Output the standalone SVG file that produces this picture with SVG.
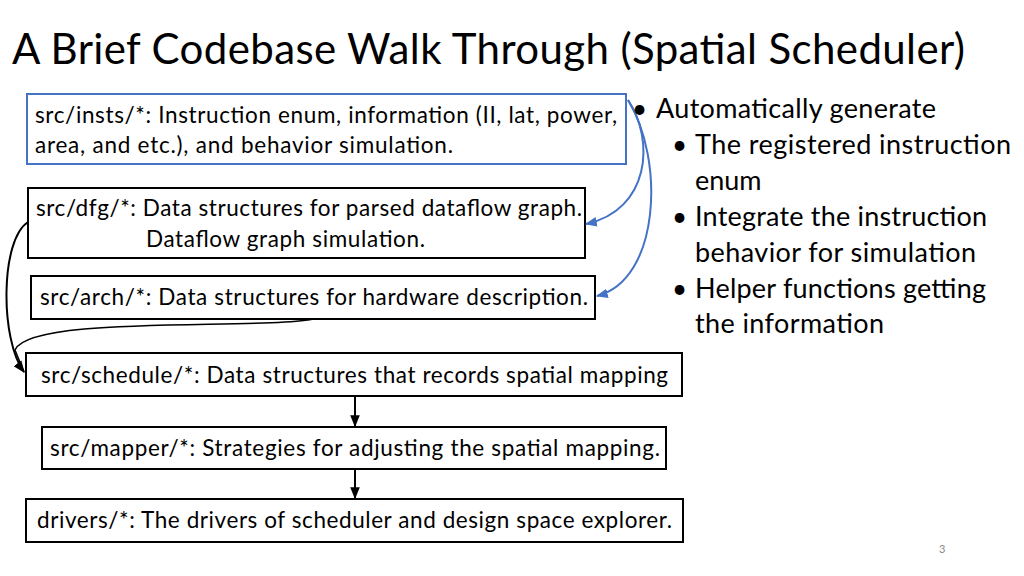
<svg xmlns="http://www.w3.org/2000/svg" width="1024" height="576" viewBox="0 0 1024 576">
<defs>
<marker id="ab" viewBox="0 0 10 10" refX="9" refY="5" markerWidth="6" markerHeight="6" orient="auto"><path d="M0,1 L10,5 L0,9 z" fill="#4472C4"/></marker>
<marker id="ak" viewBox="0 0 10 10" refX="9" refY="5" markerWidth="6" markerHeight="6" orient="auto"><path d="M0,1 L10,5 L0,9 z" fill="#000"/></marker>
<style>
text{font-family:Lato,"Open Sans",sans-serif;fill:#000}
.b{fill:#fff;stroke:#000;stroke-width:2}
.t{font-size:22.5px}
</style>
</defs>
<rect width="1024" height="576" fill="#fff"/>
<text x="12" y="64" font-size="42" textLength="953">A Brief Codebase Walk Through (Spatial Scheduler)</text>
<g id="insts"><rect x="27" y="94" width="599" height="70" fill="#fff" stroke="#4472C4" stroke-width="2"/>
<text class="t" x="35" y="123" textLength="582">src/insts/*: Instruction enum, information (II, lat, power,</text>
<text class="t" x="35" y="153" textLength="418">area, and etc.), and behavior simulation.</text></g>
<g id="dfg"><rect class="b" x="28" y="188" width="557" height="70"/>
<text class="t" x="36" y="216" textLength="546">src/dfg/*: Data structures for parsed dataflow graph.</text>
<text class="t" x="146" y="247" textLength="279">Dataflow graph simulation.</text></g>
<g id="arch"><rect class="b" x="31" y="276" width="564" height="43"/>
<text class="t" x="40" y="305" textLength="548">src/arch/*: Data structures for hardware description.</text></g>
<g id="schedule"><rect class="b" x="26" y="353" width="656" height="43"/>
<text class="t" x="41" y="383" textLength="627">src/schedule/*: Data structures that records spatial mapping</text></g>
<g id="mapper"><rect class="b" x="42" y="427" width="624" height="42"/>
<text class="t" x="50" y="456" textLength="610">src/mapper/*: Strategies for adjusting the spatial mapping.</text></g>
<g id="drivers"><rect class="b" x="26" y="499" width="657" height="43"/>
<text class="t" x="37" y="528" textLength="635">drivers/*: The drivers of scheduler and design space explorer.</text></g>
<g id="connectors" fill="none" stroke-width="2">
<path d="M628,100 C655,140 650,210 586,224" stroke="#4472C4" marker-end="url(#ab)"/>
<path d="M628,100 C665,160 660,280 597,296" stroke="#4472C4" marker-end="url(#ab)"/>
<path d="M28,222 C0,240 0,340 24,372" stroke="#000" marker-end="url(#ak)"/>
<path d="M313,319 C260,330 30,315 15,350 L24,372" stroke="#000" stroke-width="1.5"/>
<path d="M355,396 V426" stroke="#000" marker-end="url(#ak)"/>
<path d="M355,469 V498" stroke="#000" marker-end="url(#ak)"/>
</g>
<g id="notes">
<text x="632" y="118" font-size="26">•</text><text x="656" y="118" font-size="27" textLength="280">Automatically generate</text>
<text x="672" y="154" font-size="26">•</text><text x="695" y="154" font-size="27" textLength="316">The registered  instruction</text>
<text x="695" y="190" font-size="27">enum</text>
<text x="672" y="226" font-size="26">•</text><text x="695" y="226" font-size="27" textLength="292">Integrate the instruction</text>
<text x="695" y="262" font-size="27" textLength="281">behavior for simulation</text>
<text x="672" y="298" font-size="26">•</text><text x="695" y="298" font-size="27" textLength="291">Helper functions getting</text>
<text x="695" y="333" font-size="27" textLength="189">the information</text>
</g>
<text x="939" y="553" font-size="11" style="fill:#888">3</text>
</svg>
